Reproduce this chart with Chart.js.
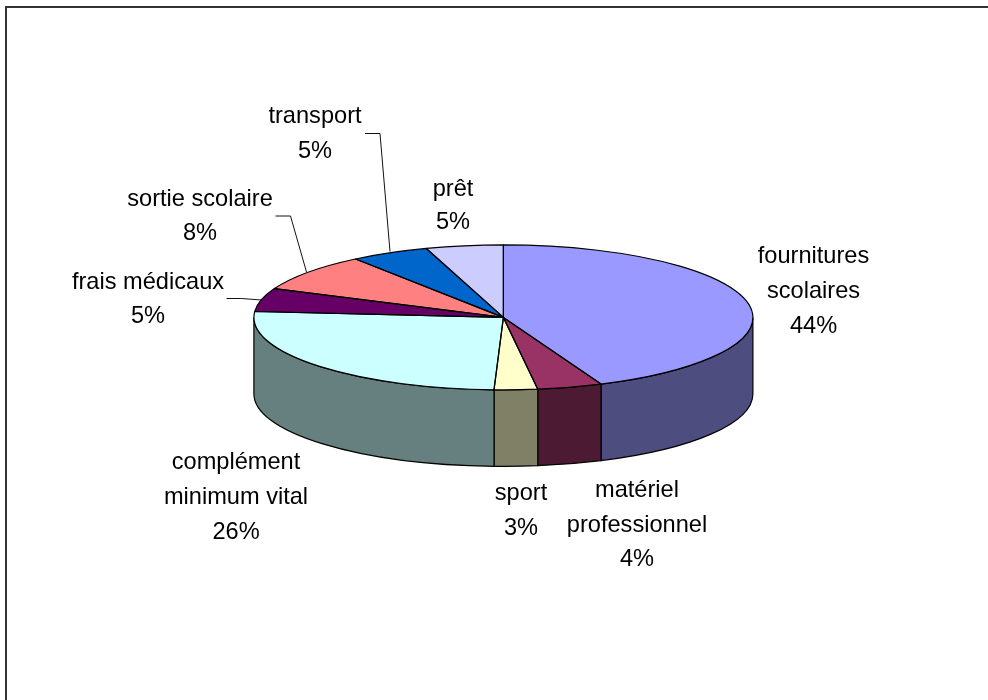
<!DOCTYPE html>
<html lang="fr">
<head>
<meta charset="utf-8">
<style>
html,body{margin:0;padding:0;background:#fff;}
#wrap{position:relative;width:988px;height:700px;}
</style>
<script src="https://cdn.jsdelivr.net/npm/chart.js@4/dist/chart.umd.min.js"></script>
</head>
<body>
<div id="wrap"><canvas id="c" width="988" height="700"></canvas></div>
<script>
const categories = ['fournitures scolaires','matériel professionnel','sport','complément minimum vital','frais médicaux','sortie scolaire','transport','prêt'];
const shares = [43.6,4.2,2.8,25.7,5.2,8.4,5.1,5.0];
const topColors = ['#9999FF','#993366','#FFFFCC','#CCFFFF','#660066','#FF8080','#0066CC','#CCCCFF'];
const wallColors = ['#4D4D80','#4D1A33','#808066','#668080','#330033','#804040','#003366','#666680'];

const SQUASH = 72.5 / 249.5;
const DEPTH = 76.5;
const FONT = '23.6px "Liberation Sans", Arial, sans-serif';

const labelLayout = [
  {x:813.5, ys:[256,291,326], lines:['fournitures','scolaires']},
  {x:637, ys:[490,525,559], lines:['matériel','professionnel']},
  {x:521, ys:[493,528], lines:['sport']},
  {x:236, ys:[462,497,532], lines:['complément','minimum vital']},
  {x:148, ys:[282,316], lines:['frais médicaux']},
  {x:200, ys:[199,233], lines:['sortie scolaire']},
  {x:315, ys:[116,151], lines:['transport']},
  {x:453, ys:[189,222], lines:['prêt']}
];
const leaders = [
  [[365,133.5],[380,133.5],[390,251.5]],
  [[275.5,216],[290.5,216],[306.5,272]],
  [[226.5,298.5],[241.5,298.5],[261.5,300]]
];

const pie3d = {
  id:'pie3d',
  beforeDatasetsDraw(chart){
    const ctx = chart.ctx;
    const arcs = chart.getDatasetMeta(0).data;
    const {x,y,outerRadius:R} = arcs[0];
    const ry = R * SQUASH;
    ctx.save();
    ctx.lineWidth = 1.2;
    ctx.strokeStyle = '#000';
    arcs.forEach((arc,i)=>{
      // keep only the part of the slice that faces the viewer (0..PI)
      const tau = Math.PI*2;
      let a = arc.startAngle, b = arc.endAngle;
      for (const shift of [0,tau,-tau]) {
        const s = Math.max(a+shift,0), e = Math.min(b+shift,Math.PI);
        if (e > s) {
          ctx.beginPath();
          ctx.ellipse(x,y,R,ry,0,s,e,false);
          ctx.ellipse(x,y+DEPTH,R,ry,0,e,s,true);
          ctx.closePath();
          ctx.fillStyle = wallColors[i];
          ctx.fill();
          ctx.stroke();
        }
      }
    });
    ctx.restore();
    ctx.save();
    ctx.translate(x,y);
    ctx.scale(1,SQUASH);
    ctx.translate(-x,-y);
  },
  afterDatasetsDraw(chart){
    const ctx = chart.ctx;
    ctx.restore();
    const arcs = chart.getDatasetMeta(0).data;
    ctx.save();
    ctx.lineWidth = 1.2;
    ctx.strokeStyle = '#000';
    ctx.lineJoin = 'round';
    arcs.forEach(arc=>{
      const R = arc.outerRadius;
      ctx.beginPath();
      ctx.moveTo(arc.x,arc.y);
      ctx.ellipse(arc.x,arc.y,R,R*SQUASH,0,arc.startAngle,arc.endAngle,false);
      ctx.closePath();
      ctx.stroke();
    });
    // leader lines
    ctx.lineWidth = 1;
    ctx.strokeStyle = '#111';
    leaders.forEach(pts=>{
      ctx.beginPath();
      pts.forEach((p,i)=> i ? ctx.lineTo(p[0],p[1]) : ctx.moveTo(p[0],p[1]));
      ctx.stroke();
    });
    // labels
    ctx.fillStyle = '#000';
    ctx.font = FONT;
    ctx.textAlign = 'center';
    ctx.textBaseline = 'middle';
    labelLayout.forEach((l,i)=>{
      const text = [...l.lines, Math.round(shares[i]) + '%'];
      text.forEach((t,j)=> ctx.fillText(t,l.x,l.ys[j]));
    });
    // frame: top and left rule
    ctx.fillStyle = '#333';
    ctx.fillRect(5,6,983,2);
    ctx.fillRect(5,6,2,694);
    ctx.restore();
  }
};

new Chart(document.getElementById('c'),{
  type:'pie',
  data:{
    labels:categories,
    datasets:[{data:shares, backgroundColor:topColors, borderWidth:0, clip:false, hoverOffset:0}]
  },
  options:{
    responsive:false,
    animation:false,
    layout:{padding:{left:253.9,right:235.1,top:67.9,bottom:133.1}},
    plugins:{legend:{display:false},tooltip:{enabled:false},title:{display:false}}
  },
  plugins:[pie3d]
});
</script>
</body>
</html>
